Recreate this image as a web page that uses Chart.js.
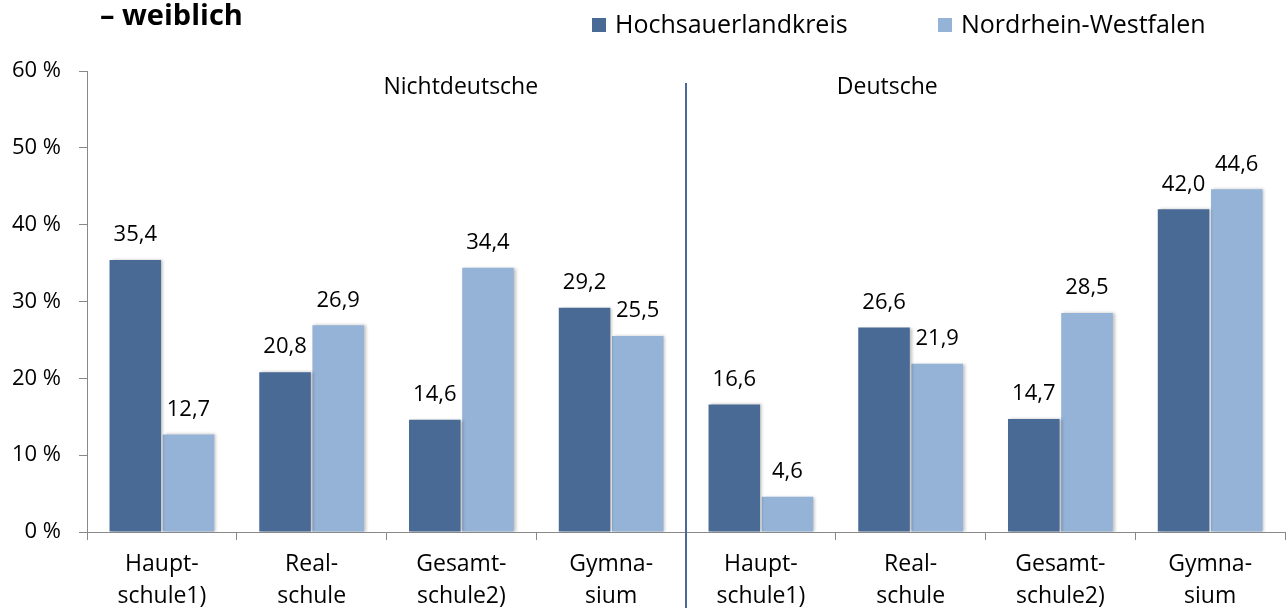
<!DOCTYPE html>
<html>
<head>
<meta charset="utf-8">
<script src="https://cdn.jsdelivr.net/npm/chart.js"></script>
<style>
  html, body { margin:0; padding:0; background:#fff; }
  #wrap { width:1287px; height:608px; position:relative; }
</style>
</head>
<body>
<div id="wrap"><canvas id="chart" width="1287" height="608"></canvas></div>
<script>
// Daten
const kategorien = [
  ["Haupt-", "schule1)"], ["Real-", "schule"], ["Gesamt-", "schule2)"], ["Gymna-", "sium"],
  ["Haupt-", "schule1)"], ["Real-", "schule"], ["Gesamt-", "schule2)"], ["Gymna-", "sium"]
];
const hochsauerland = [35.4, 20.8, 14.6, 29.2, 16.6, 26.6, 14.7, 42.0];
const nrw = [12.7, 26.9, 34.4, 25.5, 4.6, 21.9, 28.5, 44.6];
const serien = ["Hochsauerlandkreis", "Nordrhein-Westfalen"];
const gruppen = ["Nichtdeutsche", "Deutsche"];
const titel = "– weiblich";

const FONT = "'Open Sans', Lato, sans-serif";
const dunkel = "#4a6a96";
const hell = "#95b3d7";

// Schatten für die Balken
const schatten = {
  id: "schatten",
  beforeDatasetsDraw(chart) {
    const c = chart.ctx;
    c.save();
    c.shadowColor = "rgba(0,0,0,0.25)";
    c.shadowBlur = 3;
    c.shadowOffsetX = 2;
    c.shadowOffsetY = 0;
  },
  afterDatasetsDraw(chart) {
    chart.ctx.restore();
  }
};

// Werte, Gruppen, Trennlinie, Titel, Legende
const beschriftung = {
  id: "beschriftung",
  afterDraw(chart) {
    const c = chart.ctx;
    const xs = chart.scales.x;
    c.save();
    c.fillStyle = "#000";
    c.textAlign = "center";
    c.textBaseline = "middle";
    c.font = "22px " + FONT;
    chart.data.datasets.forEach((ds, i) => {
      chart.getDatasetMeta(i).data.forEach((bar, j) => {
        c.fillText(ds.data[j].toFixed(1).replace(".", ","), bar.x, bar.y - 25);
      });
    });

    // Trennlinie zwischen den Gruppen
    const xt = (xs.getPixelForValue(3) + xs.getPixelForValue(4)) / 2;
    c.strokeStyle = dunkel;
    c.lineWidth = 2;
    c.beginPath();
    c.moveTo(xt, 83);
    c.lineTo(xt, 608);
    c.stroke();

    // Gruppenbeschriftung
    c.font = "23px " + FONT;
    c.fillText(gruppen[0], xs.left + xs.width * 0.312, 87);
    c.fillText(gruppen[1], xs.left + xs.width * 0.668, 87);

    // Titel
    c.textAlign = "left";
    c.textBaseline = "alphabetic";
    c.font = "bold 29px " + FONT;
    c.fillText(titel, 100, 25);

    // Legende
    c.font = "25px " + FONT;
    c.textBaseline = "middle";
    const lx = [592, 938];
    [dunkel, hell].forEach((farbe, i) => {
      c.fillStyle = farbe;
      c.fillRect(lx[i], 18, 14, 14);
      c.fillStyle = "#000";
      c.fillText(serien[i], lx[i] + 23, 26);
    });
    c.restore();
  }
};

new Chart(document.getElementById("chart"), {
  type: "bar",
  data: {
    labels: kategorien,
    datasets: [
      { label: serien[0], data: hochsauerland, backgroundColor: dunkel },
      { label: serien[1], data: nrw, backgroundColor: hell }
    ]
  },
  options: {
    responsive: false,
    animation: false,
    categoryPercentage: 0.71,
    barPercentage: 0.97,
    layout: { padding: { top: 71, right: 2, left: 0, bottom: 0 } },
    plugins: { legend: { display: false }, tooltip: { enabled: false } },
    scales: {
      x: {
        afterFit: s => { s.height = 76; },
        grid: { offset: true, drawOnChartArea: false, tickLength: 8, color: "#888" },
        border: { color: "#888" },
        ticks: { color: "#000", font: { family: FONT, size: 23, lineHeight: 1.38 }, padding: 9, maxRotation: 0 }
      },
      y: {
        min: 0, max: 60,
        afterFit: s => { s.width = 87; },
        grid: { drawOnChartArea: false, tickLength: 8, color: "#888" },
        border: { color: "#888" },
        ticks: { stepSize: 10, color: "#000", padding: 18, font: { family: FONT, size: 22 }, callback: v => v + " %" }
      }
    }
  },
  plugins: [schatten, beschriftung]
});
</script>
</body>
</html>
